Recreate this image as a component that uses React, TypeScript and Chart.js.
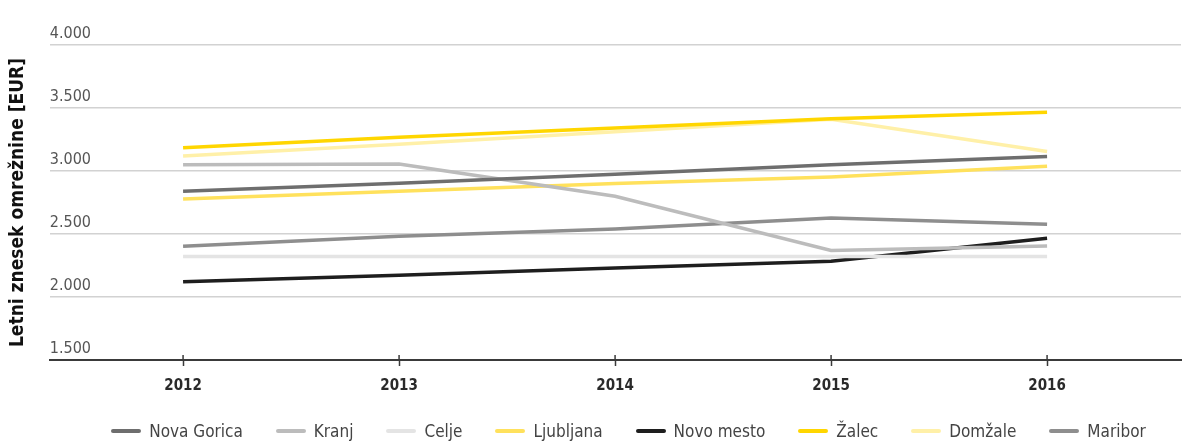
import React, { useEffect, useRef } from "react";
import { Chart, registerables } from "chart.js";

Chart.register(...registerables);

const years = [2012, 2013, 2014, 2015, 2016];
const novaGorica = [2840, 2903, 2975, 3050, 3115];
const kranj = [3050, 3055, 2800, 2370, 2405];
const celje = [2322, 2322, 2322, 2322, 2322];
const ljubljana = [2778, 2840, 2900, 2952, 3037];
const novoMesto = [2122, 2173, 2230, 2283, 2467];
const zalec = [3185, 3268, 3342, 3415, 3467];
const domzale = [3120, 3212, 3312, 3410, 3155];
const maribor = [2402, 2482, 2540, 2626, 2577];
const yTicks = [1500, 2000, 2500, 3000, 3500, 4000];

const FONT = "'Liberation Sans Narrow', 'DejaVu Sans Condensed', 'Roboto', sans-serif";

const series = [
  { label: "Nova Gorica", data: novaGorica, color: "#6e6e6e" },
  { label: "Kranj", data: kranj, color: "#bcbcbc" },
  { label: "Celje", data: celje, color: "#e4e4e4" },
  { label: "Ljubljana", data: ljubljana, color: "#ffe15c" },
  { label: "Novo mesto", data: novoMesto, color: "#1e1e1e" },
  { label: "Žalec", data: zalec, color: "#ffd600" },
  { label: "Domžale", data: domzale, color: "#fff0a8" },
  { label: "Maribor", data: maribor, color: "#8e8e8e" },
];

const crossTicks = {
  id: "crossTicks",
  afterDraw(chart: any) {
    const xs = chart.scales.x;
    const ctx = chart.ctx;
    const y = chart.chartArea.bottom;
    ctx.save();
    ctx.strokeStyle = "#3a3a3a";
    ctx.lineWidth = 1.5;
    years.forEach((yr) => {
      const px = xs.getPixelForValue(yr);
      ctx.beginPath();
      ctx.moveTo(px, y - 5);
      ctx.lineTo(px, y);
      ctx.stroke();
    });
    ctx.restore();
  },
};

export default function App() {
  const ref = useRef<HTMLCanvasElement>(null);
  useEffect(() => {
    document.body.style.margin = "0";
    const chart = new Chart(ref.current!, {
      type: "line",
      data: {
        datasets: series.map((s) => ({
          label: s.label,
          data: years.map((y, i) => ({ x: y, y: s.data[i] })),
          borderColor: s.color,
          backgroundColor: s.color,
          borderWidth: 3.5,
          pointRadius: 0,
          tension: 0,
          fill: false,
        })),
      },
      options: {
        animation: false,
        responsive: false,
        maintainAspectRatio: false,
        layout: { padding: { top: 45, right: 6, left: 7, bottom: 38 } },
        plugins: {
          tooltip: { enabled: false },
          legend: { display: false },
        },
        scales: {
          x: {
            type: "linear",
            min: 2011.383,
            max: 2016.62,
            afterBuildTicks: (axis: any) => {
              axis.ticks = years.map((v) => ({ value: v }));
            },
            border: { display: true, color: "#3a3a3a", width: 2 },
            grid: {
              display: true,
              drawOnChartArea: false,
              drawTicks: true,
              tickLength: 6,
              color: "#3a3a3a",
              tickWidth: 1.5,
            },
            ticks: {
              color: "#2a2a2a",
              padding: 11,
              font: { family: FONT, size: 15, weight: "bold" },
              callback: (v: any) => String(v),
            },
          },
          y: {
            min: 1500,
            max: 4000,
            afterBuildTicks: (axis: any) => {
              axis.ticks = yTicks.map((v) => ({ value: v }));
            },
            border: { display: false },
            grid: {
              drawTicks: false,
              color: (ctx: any) => (ctx.tick && ctx.tick.value === 1500 ? "rgba(0,0,0,0)" : "#d2d2d2"),
              lineWidth: 1.5,
            },
            ticks: {
              mirror: true,
              padding: 0,
              labelOffset: -11,
              color: "#555",
              font: { family: FONT, size: 16 },
              callback: (v: any) => Number(v).toLocaleString("de-DE"),
            },
            title: {
              display: true,
              text: "Letni znesek omrežnine [EUR]",
              color: "#111",
              font: { family: FONT, size: 19, weight: "bold" },
              padding: { top: 0, bottom: 20 },
            },
          },
        },
      },
      plugins: [crossTicks],
    });
    return () => chart.destroy();
  }, []);
  return (
    <div style={{ position: "absolute", left: 0, top: 0, width: 1187, height: 444 }}>
      <canvas ref={ref} width={1187} height={444} style={{ width: 1187, height: 444, display: "block" }} />
      <div
        style={{
          position: "absolute",
          left: 0,
          top: 419,
          width: 1187,
          boxSizing: "border-box",
          paddingLeft: 70,
          display: "flex",
          justifyContent: "center",
          alignItems: "center",
          gap: 33,
          fontFamily: FONT,
          fontSize: 17,
          color: "#444",
          lineHeight: "24px",
          whiteSpace: "nowrap",
        }}
      >
        {series.map((s) => (
          <div key={s.label} style={{ display: "flex", alignItems: "center", gap: 8 }}>
            <span
              style={{
                display: "inline-block",
                width: 30,
                height: 4,
                borderRadius: 2,
                background: s.color,
              }}
            />
            <span>{s.label}</span>
          </div>
        ))}
      </div>
    </div>
  );
}
